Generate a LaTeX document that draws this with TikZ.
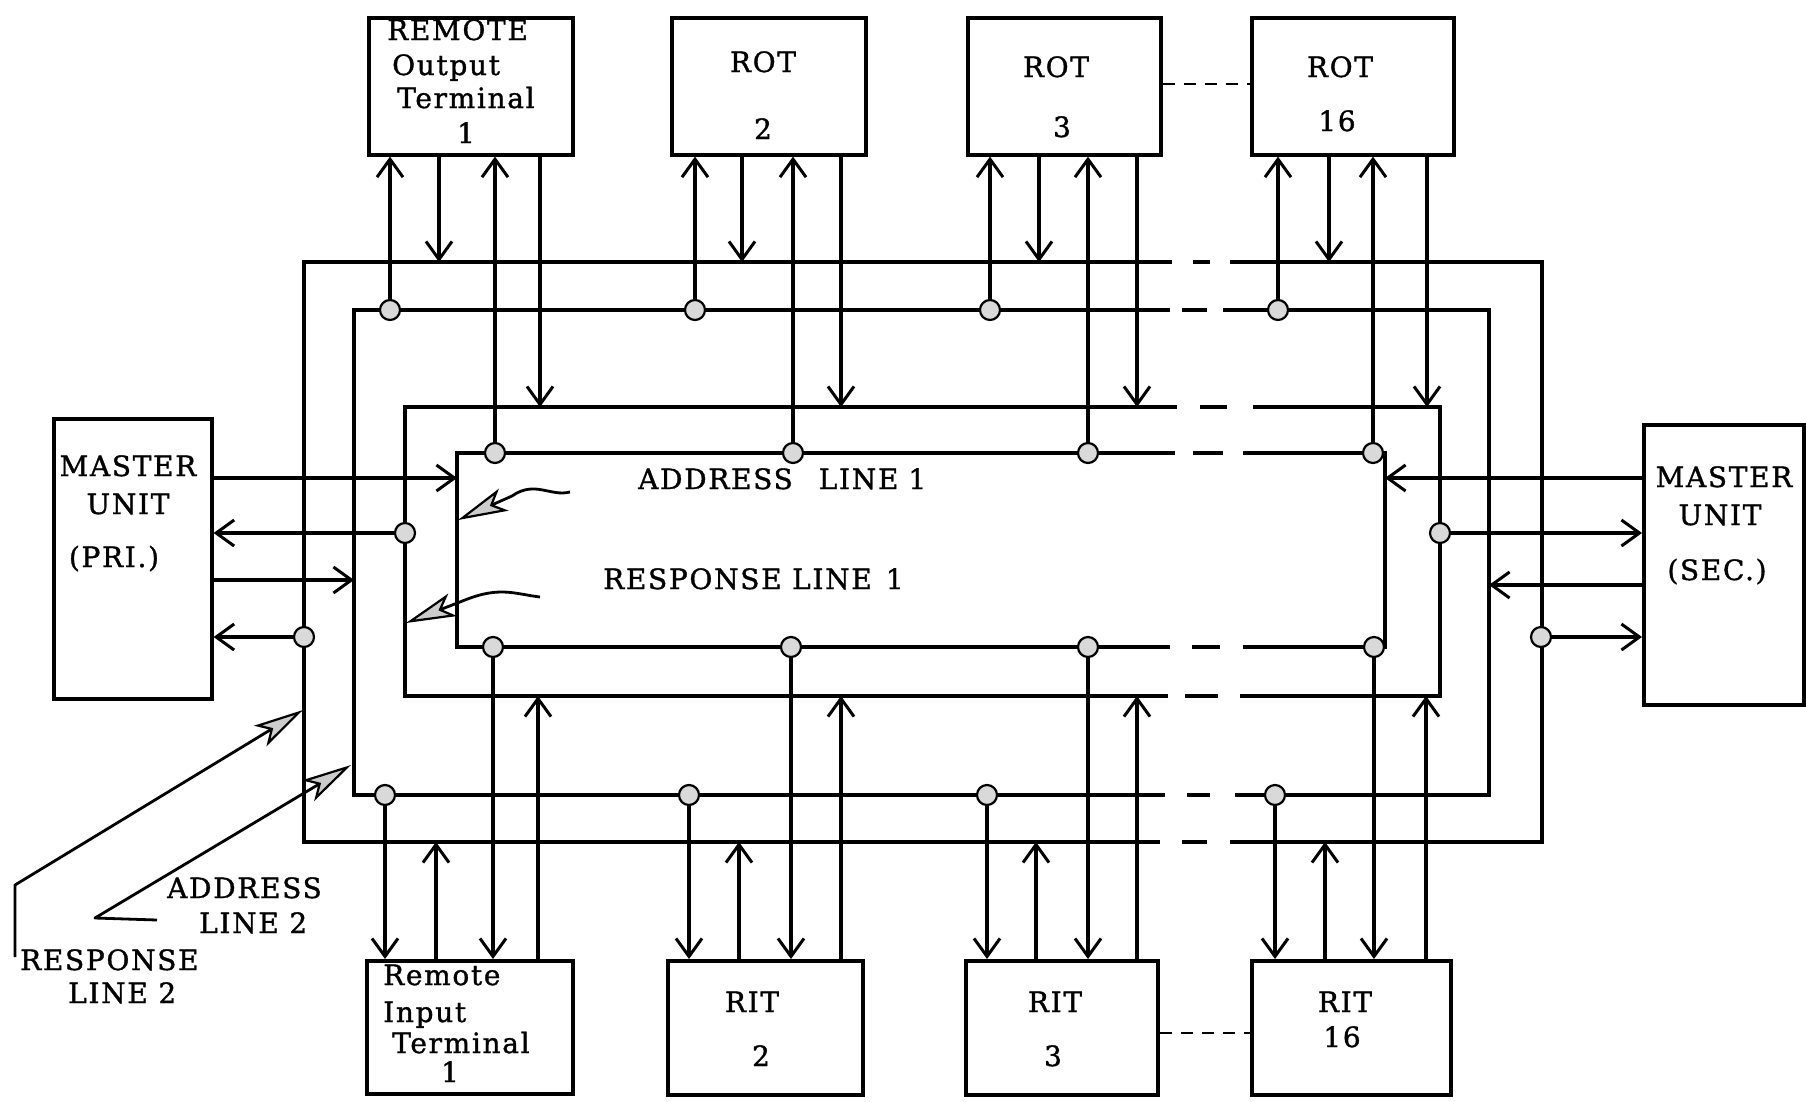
\documentclass[tikz,border=0pt]{standalone}
\usepackage{fontspec}
\setmainfont{DejaVu Serif}[LetterSpace=6,FakeBold=1.2]
\usetikzlibrary{arrows.meta}
\begin{document}
\begin{tikzpicture}[x=1pt,y=-1pt,
  bus/.style={line width=3.6pt, line join=miter},
  box/.style={draw, line width=3.6pt, anchor=north west, inner sep=0pt},
  lbl/.style={inner sep=0pt, font=\fontsize{28}{30}\selectfont},
  conn/.style={line width=3.6pt, -{Straight Barb[length=18pt,width=26pt,line width=3pt]}},
  jdot/.style={draw, line width=2.2pt, fill=gray!30},
  note/.style={line width=2.8pt, line join=round, -{Stealth[length=50pt,width=24pt,inset=12pt,fill=gray!40,line width=2.2pt]}},
  link/.style={line width=2.8pt, dash pattern=on 12pt off 9pt},
]
\useasboundingbox (0,0) rectangle (1806,1101);
\fill[white] (0,0) rectangle (1806,1101);

% boxes
\node[box, minimum width=204pt, minimum height=137pt] (rot1) at (367,16) {};
\node[box, minimum width=194pt, minimum height=137pt] (rot2) at (670,16) {};
\node[box, minimum width=193pt, minimum height=137pt] (rot3) at (966,16) {};
\node[box, minimum width=202pt, minimum height=137pt] (rot16) at (1250,16) {};
\node[box, minimum width=206pt, minimum height=133pt] (rit1) at (365,959) {};
\node[box, minimum width=195pt, minimum height=134pt] (rit2) at (666,959) {};
\node[box, minimum width=192pt, minimum height=134pt] (rit3) at (964,959) {};
\node[box, minimum width=199pt, minimum height=134pt] (rit16) at (1250,959) {};
\node[box, minimum width=158pt, minimum height=280pt] (mpri) at (52,417) {};
\node[box, minimum width=160pt, minimum height=280pt] (msec) at (1642,423) {};

% bus loops (line 1 outermost ... line 4 innermost), broken near x=1200
\draw[bus] (1172,262) -- (304,262) -- (304,842) -- (1160,842);
\draw[bus] (1230,842) -- (1542,842) -- (1542,262) -- (1230,262);
\draw[bus] (1193,262) -- (1210,262) (1182,842) -- (1207,842);

\draw[bus] (1170,310) -- (354,310) -- (354,795) -- (1165,795);
\draw[bus] (1235,795) -- (1489,795) -- (1489,310) -- (1223,310);
\draw[bus] (1182,310) -- (1207,310) (1187,795) -- (1210,795);

\draw[bus] (1177,407) -- (405,407) -- (405,696) -- (1168,696);
\draw[bus] (1240,696) -- (1440,696) -- (1440,407) -- (1253,407);
\draw[bus] (1200,407) -- (1227,407) (1185,696) -- (1218,696);

\draw[bus] (1175,453) -- (457,453) -- (457,647) -- (1170,647);
\draw[bus] (1243,647) -- (1385,647) -- (1385,453) -- (1243,453);
\draw[bus] (1193,453) -- (1223,453) (1192,647) -- (1220,647);

% terminal connections (top)
\foreach \n/\a/\b/\c/\d in {rot1/390/439/495/540, rot2/695/742/793/841, rot3/990/1039/1088/1137, rot16/1278/1329/1373/1427}{
  \draw[conn] (\a,310) -- (\a,310 |- \n.south);
  \draw[conn] (\b,262 |- \n.south) -- (\b,262);
  \draw[conn] (\c,453) -- (\c,453 |- \n.south);
  \draw[conn] (\d,407 |- \n.south) -- (\d,407);
  \filldraw[jdot] (\a,310) circle[radius=10pt];
  \filldraw[jdot] (\c,453) circle[radius=10pt];
}
% terminal connections (bottom)
\foreach \n/\a/\b/\c/\d in {rit1/385/436/493/538, rit2/689/739/791/841, rit3/987/1036/1088/1137, rit16/1275/1325/1374/1426}{
  \draw[conn] (\a,795) -- (\a,795 |- \n.north);
  \draw[conn] (\b,842 |- \n.north) -- (\b,842);
  \draw[conn] (\c,647) -- (\c,647 |- \n.north);
  \draw[conn] (\d,696 |- \n.north) -- (\d,696);
  \filldraw[jdot] (\a,795) circle[radius=10pt];
  \filldraw[jdot] (\c,647) circle[radius=10pt];
}

% master units
\draw[conn] (mpri.east |- 0,478) -- (457,478);
\draw[conn] (405,533) -- (mpri.east |- 0,533);
\draw[conn] (mpri.east |- 0,580) -- (354,580);
\draw[conn] (304,637) -- (mpri.east |- 0,637);
\filldraw[jdot] (405,533) circle[radius=10pt];
\filldraw[jdot] (304,637) circle[radius=10pt];

\draw[conn] (msec.west |- 0,478) -- (1385,478);
\draw[conn] (1440,533) -- (msec.west |- 0,533);
\draw[conn] (msec.west |- 0,585) -- (1489,585);
\draw[conn] (1541,637) -- (msec.west |- 0,637);
\filldraw[jdot] (1440,533) circle[radius=10pt];
\filldraw[jdot] (1541,637) circle[radius=10pt];

% dashed links between terminals
\draw[link] (rot3.east |- 0,84) -- (rot16.west |- 0,84);
\draw[link] (rit3.east |- 0,1033) -- (rit16.west |- 0,1033);

% annotation arrows
\draw[note] (570,492) .. controls (550,497) and (535,480) .. (512,496) -- (458,520);
\draw[note] (540,597) .. controls (515,594) and (500,586) .. (465,600) -- (406,623);
\draw[note] (15,957) -- (15,885) -- (303,710);
\draw[note] (157,920) -- (95,918) -- (351,765);

% texts
\node[lbl, anchor=base west] (t1a) at (387,40) {REMOTE};
\node[lbl, anchor=base west] (t1b) at (392,75) {Output};
\node[lbl, anchor=base west] (t1c) at (397,108) {Terminal};
\node[lbl, anchor=base] (t1d) at (466,143) {1};
\node[lbl, anchor=base] (t2a) at (763,72) {ROT};
\node[lbl, anchor=base] (t2b) at (763,139) {2};
\node[lbl, anchor=base] (t3a) at (1056,77) {ROT};
\node[lbl, anchor=base] (t3b) at (1062,137) {3};
\node[lbl, anchor=base] (t16a) at (1340,77) {ROT};
\node[lbl, anchor=base] (t16b) at (1337,131) {16};

\node[lbl, anchor=base west] (s1a) at (383,985) {Remote};
\node[lbl, anchor=base west] (s1b) at (383,1022) {Input};
\node[lbl, anchor=base west] (s1c) at (392,1053) {Terminal};
\node[lbl, anchor=base] (s1d) at (450,1082) {1};
\node[lbl, anchor=base] (s2a) at (752,1012) {RIT};
\node[lbl, anchor=base] (s2b) at (761,1066) {2};
\node[lbl, anchor=base] (s3a) at (1055,1012) {RIT};
\node[lbl, anchor=base] (s3b) at (1053,1066) {3};
\node[lbl, anchor=base] (s16a) at (1345,1012) {RIT};
\node[lbl, anchor=base] (s16b) at (1342,1047) {16};

\node[lbl, anchor=base] (m1a) at (128,476) {MASTER};
\node[lbl, anchor=base] (m1b) at (128,514) {UNIT};
\node[lbl, anchor=base] (m1c) at (114,567) {(PRI.)};
\node[lbl, anchor=base] (m2a) at (1724,487) {MASTER};
\node[lbl, anchor=base] (m2b) at (1720,525) {UNIT};
\node[lbl, anchor=base] (m2c) at (1717,580) {(SEC.)};

\node[lbl, anchor=base west] (a1) at (638,489) {ADDRESS\hspace{26pt}LINE\hspace{10pt}1};
\node[lbl, anchor=base west] (r1) at (603,589) {RESPONSE LINE\hspace{14pt}1};
\node[lbl, anchor=base west] (a2a) at (167,898) {ADDRESS};
\node[lbl, anchor=base west] (a2b) at (199,933) {LINE 2};
\node[lbl, anchor=base west] (r2a) at (20,970) {RESPONSE};
\node[lbl, anchor=base west] (r2b) at (68,1003) {LINE 2};
\end{tikzpicture}
\end{document}
